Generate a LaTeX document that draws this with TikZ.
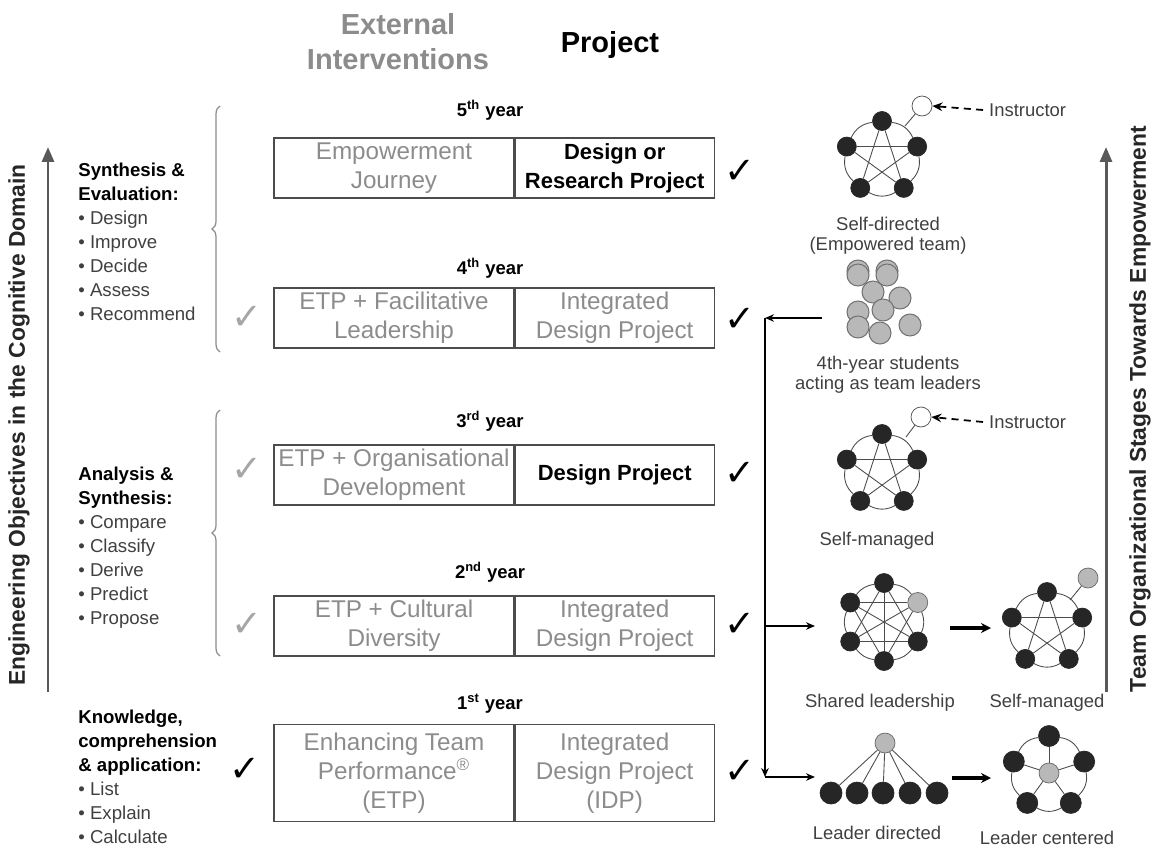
\documentclass[tikz,border=0pt]{standalone}
\usepackage{fontspec}
\setmainfont{Liberation Sans}
\newfontfamily\symfont{DejaVu Sans}
\usetikzlibrary{arrows.meta, positioning, calc, decorations.pathreplacing}

\newcommand\bul[1]{{\color{black!75}\textbullet\ #1}}

\tikzset{
  title/.style={align=center, font=\fontsize{16.5}{20}\selectfont\bfseries},
  axis/.style={draw=black!65, line width=1.7pt, -{Triangle[length=0.3cm, width=0.24cm]}},
  axislabel/.style={rotate=90, text=black!85, font=\fontsize{13}{15}\selectfont\bfseries},
  objlist/.style={anchor=north west, align=left, inner sep=0pt, font=\fontsize{10.6}{13.6}\selectfont},
  bracket/.style={draw=black!45, line width=0.7pt, decorate, decoration={brace, amplitude=0.16cm}},
  year/.style={font=\fontsize{10.5}{12}\selectfont\bfseries},
  cell/.style={draw=black!70, line width=0.7pt, minimum height=1.2cm, align=center, inner sep=0pt},
  extcell/.style={cell, minimum width=4.8cm, text=black!45, font=\fontsize{13.8}{16.5}\selectfont},
  projcell/.style={cell, minimum width=3.98cm, font=\fontsize{12.5}{16.5}\selectfont\bfseries},
  projdim/.style={cell, minimum width=3.98cm, text=black!45, font=\fontsize{13.8}{16.5}\selectfont},
  tick/.style={font=\symfont\fontsize{21}{21}\selectfont, inner sep=0pt},
  member/.style={circle, fill=black!85, draw=black!85, minimum size=0.38cm, inner sep=0pt},
  guest/.style={circle, fill=black!28, draw=black!60, minimum size=0.40cm, inner sep=0pt},
  blank/.style={circle, fill=white, draw=black!70, minimum size=0.40cm, inner sep=0pt},
  pupil/.style={circle, fill=black!28, draw=black!55, line width=0.6pt, minimum size=0.44cm, inner sep=0pt},
  tie/.style={draw=black!70, line width=0.5pt},
  link/.style={draw=black, line width=1pt, -{Stealth[length=0.18cm, width=0.15cm]}},
  step arrow/.style={draw=black, line width=1.8pt, -{Stealth[length=0.2cm, width=0.2cm]}},
  callout/.style={draw=black, line width=1pt, dash pattern=on 4pt off 3pt, -{Stealth[length=0.2cm, width=0.17cm]}},
  teamlabel/.style={align=center, text=black!75, font=\fontsize{10.5}{11.5}\selectfont}
}

\begin{document}
\begin{tikzpicture}[x=0.02cm, y=-0.02cm]
\useasboundingbox (0,0) rectangle (1155,848);

% Headings
\node[title, text=black!45] (exthead) at (398,42) {External\\Interventions};
\node[title] (projhead) at (610,45) {Project};

% Axis arrows
\coordinate (objlow) at (48,692);
\coordinate (objhigh) at (48,147);
\draw[axis] (objlow) -- (objhigh);
\node[axislabel] (objlabel) at (19,425) {Engineering Objectives in the Cognitive Domain};
\coordinate (teamlow) at (1106,692);
\coordinate (teamhigh) at (1106,147);
\draw[axis] (teamlow) -- (teamhigh);
\node[axislabel] (teamlabel) at (1140,409) {Team Organizational Stages Towards Empowerment};

% Objectives
\node[objlist] (obj3) at (78,163) {\textbf{Synthesis \&}\\\textbf{Evaluation:}\\\bul{Design}\\\bul{Improve}\\\bul{Decide}\\\bul{Assess}\\\bul{Recommend}};
\node[objlist] (obj2) at (78,467) {\textbf{Analysis \&}\\\textbf{Synthesis:}\\\bul{Compare}\\\bul{Classify}\\\bul{Derive}\\\bul{Predict}\\\bul{Propose}};
\node[objlist] (obj1) at (78,710) {\textbf{Knowledge,}\\\textbf{comprehension}\\\textbf{\& application:}\\\bul{List}\\\bul{Explain}\\\bul{Calculate}};

% Braces
\draw[bracket] (220,352) -- (220,106);
\draw[bracket] (220,656) -- (220,410);

% Year rows
\node[year] (y5) at (490,110) {5\textsuperscript{th} year};
\node[extcell] (r5ext) at (394,168) {Empowerment\\Journey};
\node[projcell, right=0pt of r5ext] (r5proj) {Design or\\Research Project};

\node[year] (y4) at (490,268) {4\textsuperscript{th} year};
\node[extcell] (r4ext) at (394,318) {ETP + Facilitative\\Leadership};
\node[projdim, right=0pt of r4ext] (r4proj) {Integrated\\Design Project};

\node[year] (y3) at (490,421) {3\textsuperscript{rd} year};
\node[extcell] (r3ext) at (394,475) {ETP + Organisational\\Development};
\node[projcell, right=0pt of r3ext] (r3proj) {Design Project};

\node[year] (y2) at (490,572) {2\textsuperscript{nd} year};
\node[extcell] (r2ext) at (394,626) {ETP + Cultural\\Diversity};
\node[projdim, right=0pt of r2ext] (r2proj) {Integrated\\Design Project};

\node[year] (y1) at (490,704) {1\textsuperscript{st} year};
\node[extcell, minimum height=1.94cm] (r1ext) at (394,773) {Enhancing Team\\Performance\textsuperscript{®}\\(ETP)};
\node[projdim, minimum height=1.94cm, right=0pt of r1ext] (r1proj) {Integrated\\Design Project\\(IDP)};

% Ticks
\foreach \y [count=\i] in {772,625,474,320,172}
  \node[tick] (tickp\i) at (740,\y) {✓};
\foreach \y [count=\i from 2] in {625,470,318}
  \node[tick, text=black!35] (ticke\i) at (247,\y) {✓};
\node[tick] (ticke1) at (245,770) {✓};

% Self-directed team
\coordinate (sdc) at (882,158);
\foreach \i in {1,...,5}
  \node[member] (sd\i) at ($(sdc)+({-90+72*(\i-1)}:37)$) {};
\foreach \a/\b in {1/2,2/3,3/4,4/5,5/1}
  \draw[tie] (sd\a) to[bend left=28] (sd\b);
\foreach \a/\b in {1/3,1/4,2/4,2/5,3/5}
  \draw[tie] (sd\a) -- (sd\b);
\node[blank] (inst1) at (922,106) {};
\coordinate (sdhook) at (905,126);
\draw[tie] (inst1) -- (sdhook);
\node[teamlabel, anchor=west] (instr1) at (983,110) {Instructor};
\draw[callout] (instr1.west) -- (inst1.east);
\node[teamlabel] (sdlabel) at (888,236) {Self-directed\\(Empowered team)};

% 4th-year students
\foreach \x/\y [count=\i] in {858/271, 887/271, 858/275, 887/275, 873/292, 900/298, 858/312, 883/310, 858/327, 880/333, 910/325}
  \node[pupil] (st\i) at (\x,\y) {};
\node[teamlabel] (stlabel) at (888,375) {4th-year students\\acting as team leaders};

% Self-managed team with instructor
\coordinate (smc) at (882,471);
\foreach \i in {1,...,5}
  \node[member] (sm\i) at ($(smc)+({-90+72*(\i-1)}:37)$) {};
\foreach \a/\b in {1/2,2/3,3/4,4/5,5/1}
  \draw[tie] (sm\a) to[bend left=28] (sm\b);
\foreach \a/\b in {1/3,1/4,2/4,2/5,3/5}
  \draw[tie] (sm\a) -- (sm\b);
\node[blank] (inst2) at (921,417) {};
\coordinate (smhook) at (906,437);
\draw[tie] (inst2) -- (smhook);
\node[teamlabel, anchor=west] (instr2) at (983,422) {Instructor};
\draw[callout] (instr2.west) -- (inst2.east);
\node[teamlabel] (smlabel) at (877,541) {Self-managed};

% Shared leadership
\coordinate (shc) at (884,622);
\foreach \i/\s in {1/member,2/guest,3/member,4/member,5/member,6/member}
  \node[\s] (sh\i) at ($(shc)+({-90+60*(\i-1)}:39)$) {};
\foreach \a/\b in {1/2,2/3,3/4,4/5,5/6,6/1}
  \draw[tie] (sh\a) to[bend left=22] (sh\b);
\foreach \a/\b in {1/3,1/4,1/5,2/4,2/5,2/6,3/5,3/6,4/6}
  \draw[tie] (sh\a) -- (sh\b);
\node[teamlabel] (shlabel) at (880,703) {Shared leadership};

% Self-managed team with outside member
\coordinate (omc) at (1047,629);
\foreach \i in {1,...,5}
  \node[member] (om\i) at ($(omc)+({-90+72*(\i-1)}:37)$) {};
\foreach \a/\b in {1/2,2/3,3/4,4/5,5/1}
  \draw[tie] (om\a) to[bend left=28] (om\b);
\foreach \a/\b in {1/3,1/4,2/4,2/5,3/5}
  \draw[tie] (om\a) -- (om\b);
\node[guest] (out1) at (1088,578) {};
\coordinate (omhook) at (1070,600);
\draw[tie] (out1) -- (omhook);
\node[teamlabel] (omlabel) at (1047,703) {Self-managed};

% Leader directed
\node[guest] (ld0) at (885,743) {};
\foreach \x [count=\i] in {831,857,883,910,937}
  \node[member, minimum size=0.44cm] (ld\i) at (\x,793) {};
\foreach \i in {1,...,5}
  \draw[tie] (ld0) -- (ld\i);
\node[teamlabel] (ldlabel) at (877,833) {Leader directed};

% Leader centered
\coordinate (lcc) at (1049,773);
\node[guest] (lc0) at (lcc) {};
\foreach \i in {1,...,5}
  \node[member, minimum size=0.42cm] (lc\i) at ($(lcc)+({-90+72*(\i-1)}:37)$) {};
\foreach \a/\b in {1/2,2/3,3/4,4/5,5/1}
  \draw[tie] (lc\a) to[bend left=28] (lc\b);
\foreach \i in {1,...,5}
  \draw[tie] (lc0) -- (lc\i);
\node[teamlabel] (lclabel) at (1047,838) {Leader centered};

% Progression connectors
\coordinate (stout) at (822,318);
\coordinate (jtop) at (765,318);
\coordinate (jmid) at (765,626);
\coordinate (jbot) at (765,777);
\coordinate (shin) at (815,626);
\coordinate (ldin) at (815,777);
\draw[link] (stout) -- (jtop);
\draw[link] (jtop) -- (jbot);
\draw[link] (jmid) -- (shin);
\draw[link] (jbot) -- (ldin);
\coordinate (shout) at (950,628);
\coordinate (omin) at (991,628);
\draw[step arrow] (shout) -- (omin);
\coordinate (ldout) at (952,778);
\coordinate (lcin) at (991,778);
\draw[step arrow] (ldout) -- (lcin);
\end{tikzpicture}
\end{document}
